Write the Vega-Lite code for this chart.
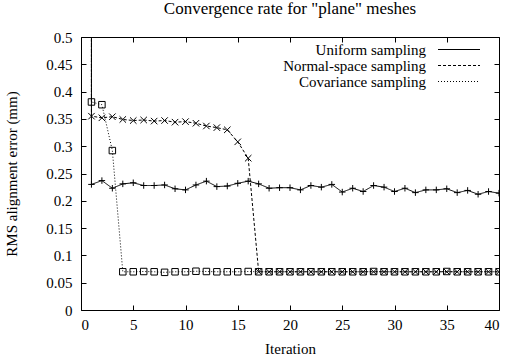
{
  "$schema": "https://vega.github.io/schema/vega-lite/v6.json",
  "width": 418,
  "height": 273,
  "autosize": {"type": "none"},
  "padding": {"left": 81, "top": 37, "right": 8, "bottom": 50},
  "background": "white",
  "title": {
    "text": "Convergence rate for \"plane\" meshes",
    "font": "Liberation Serif",
    "fontSize": 17,
    "fontWeight": "normal",
    "color": "black",
    "anchor": "middle",
    "frame": "group",
    "offset": 12
  },
  "config": {
    "view": {"stroke": "black", "strokeWidth": 1},
    "axis": {
      "grid": false,
      "domain": false,
      "tickColor": "black",
      "tickSize": -5,
      "labelFont": "Liberation Serif",
      "labelFontSize": 15,
      "labelColor": "black",
      "titleFont": "Liberation Serif",
      "titleFontSize": 15,
      "titleFontWeight": "normal",
      "titleColor": "black"
    },
    "legend": {
      "labelFont": "Liberation Serif",
      "labelFontSize": 15,
      "labelColor": "black"
    }
  },
  "data": {
    "values": [
      {"series": "Uniform sampling", "iter": 1, "err": 1.0},
      {"series": "Uniform sampling", "iter": 1, "err": 0.230},
      {"series": "Uniform sampling", "iter": 2, "err": 0.237},
      {"series": "Uniform sampling", "iter": 3, "err": 0.223},
      {"series": "Uniform sampling", "iter": 4, "err": 0.231},
      {"series": "Uniform sampling", "iter": 5, "err": 0.233},
      {"series": "Uniform sampling", "iter": 6, "err": 0.228},
      {"series": "Uniform sampling", "iter": 7, "err": 0.228},
      {"series": "Uniform sampling", "iter": 8, "err": 0.229},
      {"series": "Uniform sampling", "iter": 9, "err": 0.222},
      {"series": "Uniform sampling", "iter": 10, "err": 0.220},
      {"series": "Uniform sampling", "iter": 11, "err": 0.229},
      {"series": "Uniform sampling", "iter": 12, "err": 0.236},
      {"series": "Uniform sampling", "iter": 13, "err": 0.226},
      {"series": "Uniform sampling", "iter": 14, "err": 0.227},
      {"series": "Uniform sampling", "iter": 15, "err": 0.232},
      {"series": "Uniform sampling", "iter": 16, "err": 0.236},
      {"series": "Uniform sampling", "iter": 17, "err": 0.231},
      {"series": "Uniform sampling", "iter": 18, "err": 0.223},
      {"series": "Uniform sampling", "iter": 19, "err": 0.224},
      {"series": "Uniform sampling", "iter": 20, "err": 0.224},
      {"series": "Uniform sampling", "iter": 21, "err": 0.220},
      {"series": "Uniform sampling", "iter": 22, "err": 0.228},
      {"series": "Uniform sampling", "iter": 23, "err": 0.225},
      {"series": "Uniform sampling", "iter": 24, "err": 0.230},
      {"series": "Uniform sampling", "iter": 25, "err": 0.216},
      {"series": "Uniform sampling", "iter": 26, "err": 0.223},
      {"series": "Uniform sampling", "iter": 27, "err": 0.217},
      {"series": "Uniform sampling", "iter": 28, "err": 0.228},
      {"series": "Uniform sampling", "iter": 29, "err": 0.225},
      {"series": "Uniform sampling", "iter": 30, "err": 0.217},
      {"series": "Uniform sampling", "iter": 31, "err": 0.223},
      {"series": "Uniform sampling", "iter": 32, "err": 0.215},
      {"series": "Uniform sampling", "iter": 33, "err": 0.220},
      {"series": "Uniform sampling", "iter": 34, "err": 0.220},
      {"series": "Uniform sampling", "iter": 35, "err": 0.222},
      {"series": "Uniform sampling", "iter": 36, "err": 0.215},
      {"series": "Uniform sampling", "iter": 37, "err": 0.219},
      {"series": "Uniform sampling", "iter": 38, "err": 0.212},
      {"series": "Uniform sampling", "iter": 39, "err": 0.217},
      {"series": "Uniform sampling", "iter": 40, "err": 0.214},
      {"series": "Normal-space sampling", "iter": 1, "err": 1.0},
      {"series": "Normal-space sampling", "iter": 1, "err": 0.355},
      {"series": "Normal-space sampling", "iter": 2, "err": 0.352},
      {"series": "Normal-space sampling", "iter": 3, "err": 0.354},
      {"series": "Normal-space sampling", "iter": 4, "err": 0.349},
      {"series": "Normal-space sampling", "iter": 5, "err": 0.347},
      {"series": "Normal-space sampling", "iter": 6, "err": 0.348},
      {"series": "Normal-space sampling", "iter": 7, "err": 0.346},
      {"series": "Normal-space sampling", "iter": 8, "err": 0.347},
      {"series": "Normal-space sampling", "iter": 9, "err": 0.344},
      {"series": "Normal-space sampling", "iter": 10, "err": 0.345},
      {"series": "Normal-space sampling", "iter": 11, "err": 0.342},
      {"series": "Normal-space sampling", "iter": 12, "err": 0.337},
      {"series": "Normal-space sampling", "iter": 13, "err": 0.334},
      {"series": "Normal-space sampling", "iter": 14, "err": 0.330},
      {"series": "Normal-space sampling", "iter": 15, "err": 0.308},
      {"series": "Normal-space sampling", "iter": 16, "err": 0.278},
      {"series": "Normal-space sampling", "iter": 17, "err": 0.070},
      {"series": "Normal-space sampling", "iter": 18, "err": 0.070},
      {"series": "Normal-space sampling", "iter": 19, "err": 0.070},
      {"series": "Normal-space sampling", "iter": 20, "err": 0.070},
      {"series": "Normal-space sampling", "iter": 21, "err": 0.070},
      {"series": "Normal-space sampling", "iter": 22, "err": 0.070},
      {"series": "Normal-space sampling", "iter": 23, "err": 0.070},
      {"series": "Normal-space sampling", "iter": 24, "err": 0.070},
      {"series": "Normal-space sampling", "iter": 25, "err": 0.070},
      {"series": "Normal-space sampling", "iter": 26, "err": 0.070},
      {"series": "Normal-space sampling", "iter": 27, "err": 0.070},
      {"series": "Normal-space sampling", "iter": 28, "err": 0.070},
      {"series": "Normal-space sampling", "iter": 29, "err": 0.070},
      {"series": "Normal-space sampling", "iter": 30, "err": 0.070},
      {"series": "Normal-space sampling", "iter": 31, "err": 0.070},
      {"series": "Normal-space sampling", "iter": 32, "err": 0.070},
      {"series": "Normal-space sampling", "iter": 33, "err": 0.070},
      {"series": "Normal-space sampling", "iter": 34, "err": 0.070},
      {"series": "Normal-space sampling", "iter": 35, "err": 0.070},
      {"series": "Normal-space sampling", "iter": 36, "err": 0.070},
      {"series": "Normal-space sampling", "iter": 37, "err": 0.070},
      {"series": "Normal-space sampling", "iter": 38, "err": 0.070},
      {"series": "Normal-space sampling", "iter": 39, "err": 0.070},
      {"series": "Normal-space sampling", "iter": 40, "err": 0.070},
      {"series": "Covariance sampling", "iter": 1, "err": 1.0},
      {"series": "Covariance sampling", "iter": 1, "err": 0.381},
      {"series": "Covariance sampling", "iter": 2, "err": 0.376},
      {"series": "Covariance sampling", "iter": 3, "err": 0.292},
      {"series": "Covariance sampling", "iter": 4, "err": 0.070},
      {"series": "Covariance sampling", "iter": 5, "err": 0.070},
      {"series": "Covariance sampling", "iter": 6, "err": 0.0705},
      {"series": "Covariance sampling", "iter": 7, "err": 0.070},
      {"series": "Covariance sampling", "iter": 8, "err": 0.069},
      {"series": "Covariance sampling", "iter": 9, "err": 0.070},
      {"series": "Covariance sampling", "iter": 10, "err": 0.070},
      {"series": "Covariance sampling", "iter": 11, "err": 0.071},
      {"series": "Covariance sampling", "iter": 12, "err": 0.0705},
      {"series": "Covariance sampling", "iter": 13, "err": 0.070},
      {"series": "Covariance sampling", "iter": 14, "err": 0.070},
      {"series": "Covariance sampling", "iter": 15, "err": 0.070},
      {"series": "Covariance sampling", "iter": 16, "err": 0.0705},
      {"series": "Covariance sampling", "iter": 17, "err": 0.070},
      {"series": "Covariance sampling", "iter": 18, "err": 0.070},
      {"series": "Covariance sampling", "iter": 19, "err": 0.070},
      {"series": "Covariance sampling", "iter": 20, "err": 0.070},
      {"series": "Covariance sampling", "iter": 21, "err": 0.070},
      {"series": "Covariance sampling", "iter": 22, "err": 0.070},
      {"series": "Covariance sampling", "iter": 23, "err": 0.070},
      {"series": "Covariance sampling", "iter": 24, "err": 0.070},
      {"series": "Covariance sampling", "iter": 25, "err": 0.070},
      {"series": "Covariance sampling", "iter": 26, "err": 0.070},
      {"series": "Covariance sampling", "iter": 27, "err": 0.070},
      {"series": "Covariance sampling", "iter": 28, "err": 0.0705},
      {"series": "Covariance sampling", "iter": 29, "err": 0.070},
      {"series": "Covariance sampling", "iter": 30, "err": 0.070},
      {"series": "Covariance sampling", "iter": 31, "err": 0.070},
      {"series": "Covariance sampling", "iter": 32, "err": 0.070},
      {"series": "Covariance sampling", "iter": 33, "err": 0.070},
      {"series": "Covariance sampling", "iter": 34, "err": 0.070},
      {"series": "Covariance sampling", "iter": 35, "err": 0.0705},
      {"series": "Covariance sampling", "iter": 36, "err": 0.070},
      {"series": "Covariance sampling", "iter": 37, "err": 0.070},
      {"series": "Covariance sampling", "iter": 38, "err": 0.070},
      {"series": "Covariance sampling", "iter": 39, "err": 0.070},
      {"series": "Covariance sampling", "iter": 40, "err": 0.070}
    ]
  },
  "layer": [
    {
      "mark": {"type": "line", "clip": true, "color": "black", "strokeWidth": 1},
      "encoding": {
        "x": {
          "field": "iter", "type": "quantitative",
          "scale": {"domain": [0, 40], "nice": false},
          "axis": {"orient": "bottom", "values": [0, 5, 10, 15, 20, 25, 30, 35, 40], "format": "d", "title": "Iteration", "labelPadding": 12, "titlePadding": 9}
        },
        "y": {
          "field": "err", "type": "quantitative",
          "scale": {"domain": [0, 0.5], "nice": false, "zero": false},
          "axis": {"orient": "left", "values": [0, 0.05, 0.1, 0.15, 0.2, 0.25, 0.3, 0.35, 0.4, 0.45, 0.5], "format": "~g", "title": "RMS alignment error (mm)", "labelPadding": 14, "titlePadding": 26}
        },
        "strokeDash": {
          "field": "series", "type": "nominal",
          "scale": {
            "domain": ["Uniform sampling", "Normal-space sampling", "Covariance sampling"],
            "range": [[1, 0], [3, 2], [1, 2]]
          },
          "legend": {
            "orient": "none", "legendX": 370.5, "legendY": 5, "title": null,
            "symbolType": "M-7,0L7,0", "symbolSize": 36, "symbolStrokeColor": "black", "symbolFillColor": "transparent", "symbolStrokeWidth": 1,
            "labelAlign": "right", "labelOffset": -40.5, "rowPadding": -1.5, "padding": 0
          }
        },
        "order": {"value": null}
      }
    },
    {
      "mark": {"type": "point", "clip": true, "filled": false, "color": "black", "strokeWidth": 1, "size": 42, "opacity": 1},
      "encoding": {
        "x": {
          "field": "iter", "type": "quantitative",
          "axis": {"orient": "top", "values": [0, 5, 10, 15, 20, 25, 30, 35, 40], "labels": false, "title": null}
        },
        "y": {
          "field": "err", "type": "quantitative",
          "axis": {"orient": "right", "values": [0, 0.05, 0.1, 0.15, 0.2, 0.25, 0.3, 0.35, 0.4, 0.45, 0.5], "labels": false, "title": null}
        },
        "shape": {
          "condition": [
            {"test": "datum.series === 'Normal-space sampling'", "value": "M-1,-1L1,1M-1,1L1,-1"},
            {"test": "datum.series === 'Covariance sampling'", "value": "square"}
          ],
          "value": "M-1,0L1,0M0,-1L0,1"
        }
      }
    }
  ],
  "resolve": {"axis": {"x": "independent", "y": "independent"}}
}
